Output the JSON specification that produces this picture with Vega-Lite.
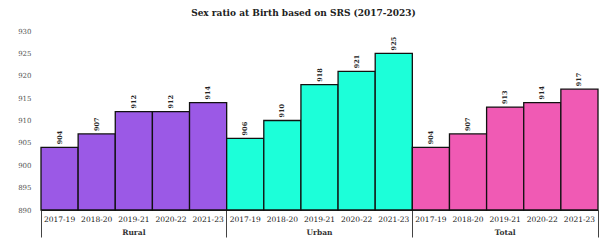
{
  "$schema": "https://vega.github.io/schema/vega-lite/v6.json",
  "width": 557,
  "height": 179,
  "padding": {"left": 17, "top": 9, "right": 8, "bottom": 0},
  "background": "white",
  "config": {"view": {"stroke": null}},
  "title": {"text": "Sex ratio at Birth based on SRS (2017-2023)", "font": "DejaVu Serif", "fontSize": 9, "fontWeight": "bold", "color": "#222", "anchor": "middle", "frame": "group", "dx": -16, "offset": 9},
  "data": {"values": [
    {"key": "Rural|2017-19", "area": "Rural", "period": "2017-19", "ratio": 904},
    {"key": "Rural|2018-20", "area": "Rural", "period": "2018-20", "ratio": 907},
    {"key": "Rural|2019-21", "area": "Rural", "period": "2019-21", "ratio": 912},
    {"key": "Rural|2020-22", "area": "Rural", "period": "2020-22", "ratio": 912},
    {"key": "Rural|2021-23", "area": "Rural", "period": "2021-23", "ratio": 914},
    {"key": "Urban|2017-19", "area": "Urban", "period": "2017-19", "ratio": 906},
    {"key": "Urban|2018-20", "area": "Urban", "period": "2018-20", "ratio": 910},
    {"key": "Urban|2019-21", "area": "Urban", "period": "2019-21", "ratio": 918},
    {"key": "Urban|2020-22", "area": "Urban", "period": "2020-22", "ratio": 921},
    {"key": "Urban|2021-23", "area": "Urban", "period": "2021-23", "ratio": 925},
    {"key": "Total|2017-19", "area": "Total", "period": "2017-19", "ratio": 904},
    {"key": "Total|2018-20", "area": "Total", "period": "2018-20", "ratio": 907},
    {"key": "Total|2019-21", "area": "Total", "period": "2019-21", "ratio": 913},
    {"key": "Total|2020-22", "area": "Total", "period": "2020-22", "ratio": 914},
    {"key": "Total|2021-23", "area": "Total", "period": "2021-23", "ratio": 917}
  ]},
  "layer": [
    {
      "mark": {"type": "bar", "stroke": "#111", "strokeWidth": 1.3},
      "encoding": {
        "x": {"field": "key", "type": "nominal", "sort": null, "scale": {"paddingInner": 0, "paddingOuter": 0},
          "axis": {"title": null, "orient": "bottom", "labelExpr": "split(datum.value,'|')[1]", "labelAngle": 0, "ticks": false, "domain": true, "domainColor": "#333", "labelFont": "DejaVu Serif", "labelFontSize": 7.5, "labelPadding": 5, "labelColor": "#222"}},
        "y": {"field": "ratio", "type": "quantitative", "scale": {"domain": [890, 930], "zero": false, "nice": false},
          "axis": {"title": null, "values": [890, 895, 900, 905, 910, 915, 920, 925, 930], "grid": false, "ticks": false, "domain": false, "labelOverlap": false, "labelFont": "DejaVu Serif", "labelFontSize": 7, "labelColor": "#555", "labelPadding": 10}},
        "y2": {"datum": 890},
        "color": {"field": "area", "type": "nominal", "scale": {"domain": ["Rural", "Urban", "Total"], "range": ["#9B59E6", "#1CFFD9", "#F05AB4"]}, "legend": null}
      }
    },
    {
      "mark": {"type": "text", "angle": 270, "align": "left", "baseline": "middle", "dx": 3, "font": "DejaVu Serif", "fontSize": 6.5, "fontWeight": "bold", "color": "#222"},
      "encoding": {
        "x": {"field": "key", "type": "nominal", "sort": null, "axis": null},
        "y": {"field": "ratio", "type": "quantitative", "scale": {"domain": [890, 930], "zero": false, "nice": false},
          "axis": {"title": null, "values": [890, 895, 900, 905, 910, 915, 920, 925, 930], "grid": false, "ticks": false, "domain": false, "labelOverlap": false, "labelFont": "DejaVu Serif", "labelFontSize": 7, "labelColor": "#555", "labelPadding": 10}},
        "text": {"field": "ratio", "type": "quantitative"}
      }
    },
    {
      "mark": {"type": "rule", "opacity": 0},
      "encoding": {
        "x": {"field": "key", "type": "nominal", "sort": null,
          "axis": {"title": null, "orient": "bottom", "values": ["Rural|2019-21", "Urban|2019-21", "Total|2019-21"], "labelExpr": "split(datum.value,'|')[0]", "labelAngle": 0, "ticks": false, "domain": false, "labelFont": "DejaVu Serif", "labelFontSize": 7.5, "labelFontWeight": "bold", "labelColor": "#333", "labelPadding": 18}}
      }
    },
    {
      "mark": {"type": "rule", "opacity": 0},
      "encoding": {
        "x": {"field": "key", "type": "nominal", "sort": null,
          "axis": {"title": null, "orient": "bottom", "values": ["Rural|2017-19", "Urban|2017-19", "Total|2017-19"], "bandPosition": 0, "labels": false, "ticks": true, "tickSize": 27, "tickColor": "#444", "tickWidth": 1, "domain": false}}
      }
    },
    {
      "mark": {"type": "rule", "opacity": 0},
      "encoding": {
        "x": {"field": "key", "type": "nominal", "sort": null,
          "axis": {"title": null, "orient": "bottom", "values": ["Total|2021-23"], "bandPosition": 1, "labels": false, "ticks": true, "tickSize": 27, "tickColor": "#444", "tickWidth": 1, "domain": false}}
      }
    }
  ],
  "resolve": {"axis": {"x": "independent"}}
}
